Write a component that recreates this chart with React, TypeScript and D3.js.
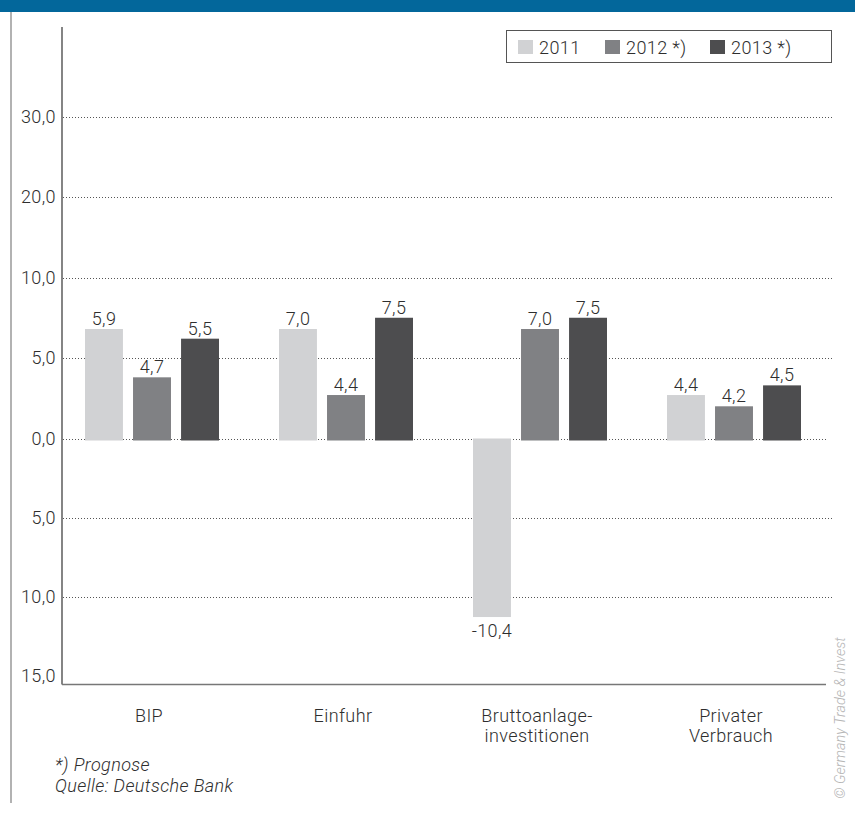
import React, { useEffect, useRef } from "react";
import * as d3 from "d3";

const categories = ["BIP", "Einfuhr", "Bruttoanlage-\ninvestitionen", "Privater\nVerbrauch"];
const seriesNames = ["2011", "2012 *)", "2013 *)"];
const colors = ["#d1d2d4", "#808184", "#4d4d4f"];

// bar heights as drawn against the chart's (uneven) axis
const values2011 = [6.8, 6.8, -11.3, 2.7];
const values2012 = [3.8, 2.7, 6.8, 2.0];
const values2013 = [6.2, 7.5, 7.5, 3.3];

// printed value labels
const labels2011 = ["5,9", "7,0", "-10,4", "4,4"];
const labels2012 = ["4,7", "4,4", "7,0", "4,2"];
const labels2013 = ["5,5", "7,5", "7,5", "4,5"];

const tickValues = [-15, -10, -5, 0, 5, 10, 20, 30];
const tickLabels = ["15,0", "10,0", "5,0", "0,0", "5,0", "10,0", "20,0", "30,0"];

const WIDTH = 855;
const HEIGHT = 813;
const FONT = "Roboto, 'DejaVu Sans', sans-serif";
const TEXT = "#2e2e2e";

const App = () => {
  const svgRef = useRef<SVGSVGElement>(null);

  useEffect(() => {
    const svg = d3.select(svgRef.current);
    svg.selectAll("*").remove();

    const series = [
      { name: seriesNames[0], values: values2011, labels: labels2011, color: colors[0] },
      { name: seriesNames[1], values: values2012, labels: labels2012, color: colors[1] },
      { name: seriesNames[2], values: values2013, labels: labels2013, color: colors[2] },
    ];

    // header band + left border
    svg.append("rect").attr("x", 0).attr("y", 0).attr("width", WIDTH).attr("height", 12).attr("fill", "#03679b");
    svg.append("line").attr("x1", 11).attr("x2", 11).attr("y1", 12).attr("y2", 803)
      .attr("stroke", "#999").attr("stroke-width", 1.5);

    // y axis: ticks are evenly spaced although the labels are not
    const zeroY = 438.5;
    const stepUp = 80.5;
    const stepDown = 79;
    const zeroIdx = tickValues.indexOf(0);
    const y = d3.scaleLinear()
      .domain(tickValues)
      .range(tickValues.map((_, i) => zeroY - (i - zeroIdx) * (i >= zeroIdx ? stepUp : stepDown)));

    const x0 = d3.scaleBand().domain(categories).range([55, 831]);
    const x1 = d3.scaleBand().domain(seriesNames).range([30, 164]).paddingInner(0.21);

    const left = 62;
    const right = 832;
    const bottom = 684.5;

    const txt = (sel: any, size = 18) =>
      sel.attr("font-family", FONT)
        .attr("font-size", size)
        .attr("font-weight", 300)
        .attr("letter-spacing", 0.4)
        .attr("fill", TEXT);

    // dotted grid
    svg.append("g")
      .selectAll("line")
      .data(tickValues.filter((t) => t !== -15))
      .join("line")
      .attr("x1", left + 1)
      .attr("x2", (d) => (d === 0 ? right - 5 : right))
      .attr("y1", (d) => Math.round(y(d)) + 0.5)
      .attr("y2", (d) => Math.round(y(d)) + 0.5)
      .attr("stroke", "#555")
      .attr("stroke-width", 1)
      .attr("stroke-dasharray", "1,2");

    // tick labels
    svg.append("g")
      .selectAll("text")
      .data(tickValues)
      .join("text")
      .attr("x", 56)
      .attr("y", (d) => y(d))
      .attr("dy", "0.35em")
      .attr("text-anchor", "end")
      .call(txt)
      .text((_, i) => tickLabels[i]);

    // bars
    const groups = svg.append("g")
      .selectAll("g")
      .data(series)
      .join("g")
      .attr("fill", (d) => d.color);

    groups.selectAll("rect")
      .data((s) => s.values.map((v, i) => ({ v, cat: categories[i], name: s.name })))
      .join("rect")
      .attr("x", (d) => x0(d.cat)! + x1(d.name)!)
      .attr("width", x1.bandwidth())
      .attr("y", (d) => Math.min(y(d.v), y(0)))
      .attr("height", (d) => Math.abs(y(d.v) - y(0)) + (d.v > 0 ? 2 : 0));

    // value labels
    svg.append("g")
      .selectAll("g")
      .data(series)
      .join("g")
      .selectAll("text")
      .data((s) => s.values.map((v, i) => ({ v, label: s.labels[i], cat: categories[i], name: s.name })))
      .join("text")
      .attr("x", (d) => x0(d.cat)! + x1(d.name)! + x1.bandwidth() / 2)
      .attr("y", (d) => (d.v >= 0 ? y(d.v) - 4 : y(d.v) + 20))
      .attr("text-anchor", "middle")
      .call(txt)
      .text((d) => d.label);

    // axes
    svg.append("line").attr("x1", left).attr("x2", left).attr("y1", 27).attr("y2", bottom)
      .attr("stroke", "#333").attr("stroke-width", 1.2);
    svg.append("line").attr("x1", left).attr("x2", 826).attr("y1", bottom).attr("y2", bottom)
      .attr("stroke", "#777").attr("stroke-width", 1.5);

    // category labels
    const catText = svg.append("g")
      .selectAll("text")
      .data(categories)
      .join("text")
      .attr("x", (d) => x0(d)! + 94)
      .attr("y", 722)
      .attr("text-anchor", "middle")
      .call(txt);
    catText.each(function (d) {
      const t = d3.select(this);
      d.split("\n").forEach((line, i) => {
        t.append("tspan").attr("x", x0(d)! + 94).attr("dy", i === 0 ? 0 : 20).text(line);
      });
    });

    // legend
    const lg = svg.append("g").attr("transform", "translate(506,30)");
    lg.append("rect").attr("x", 0.5).attr("y", 0.5).attr("width", 325).attr("height", 32)
      .attr("fill", "#fff").attr("stroke", "#555").attr("stroke-width", 1);
    const legendX = [12, 99, 204];
    const item = lg.selectAll("g.item")
      .data(series)
      .join("g")
      .attr("transform", (_, i) => `translate(${legendX[i]},10)`);
    item.append("rect").attr("width", 15).attr("height", 14).attr("fill", (d) => d.color);
    item.append("text")
      .attr("x", 21)
      .attr("y", 13.5)
      .call(txt)
      .text((d) => d.name);

    // footnotes
    const foot = ["*) Prognose", "Quelle: Deutsche Bank"];
    svg.append("g")
      .selectAll("text")
      .data(foot)
      .join("text")
      .attr("x", 55)
      .attr("y", (_, i) => 771 + i * 21)
      .call(txt, 18)
      .attr("font-style", "italic")
      .text((d) => d);

    // watermark
    svg.append("text")
      .attr("transform", "translate(845,718) rotate(-90)")
      .attr("text-anchor", "middle")
      .attr("font-family", FONT)
      .attr("font-size", 14.5)
      .attr("font-weight", 300)
      .attr("font-style", "italic")
      .attr("fill", "#b5b5b5")
      .text("© Germany Trade & Invest");
  }, []);

  return (
    <svg
      ref={svgRef}
      width={WIDTH}
      height={HEIGHT}
      style={{ position: "absolute", left: 0, top: 0, background: "#fff" }}
    />
  );
};

export default App;
